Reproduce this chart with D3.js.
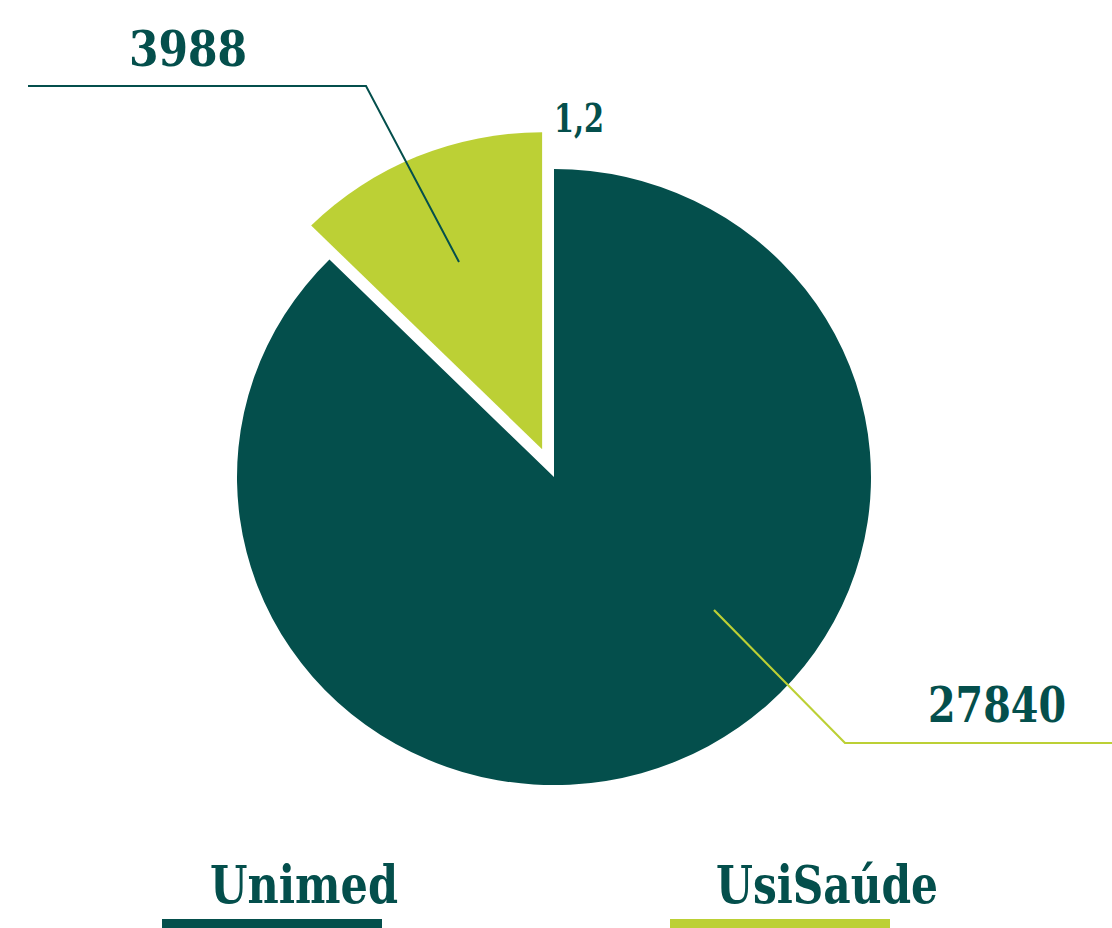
<!DOCTYPE html>
<html>
<head>
<meta charset="utf-8">
<script src="https://cdn.jsdelivr.net/npm/d3@7"></script>
<style>
  html, body { margin: 0; padding: 0; background: #ffffff; }
  svg { display: block; }
  text { font-family: "DejaVu Serif Condensed", "DejaVu Serif", serif; font-weight: bold; fill: #044f4c; }
</style>
</head>
<body>
<svg id="chart" width="1112" height="928"></svg>
<script>
// ---- data ----
const categories = ["Unimed", "UsiSaúde"];
const values = [27840, 3988];
const valueLabels = ["27840", "3988"];
const extraLabel = "1,2";
const colors = ["#044f4c", "#bcd035"];

const W = 1112, H = 928;
const svg = d3.select("#chart");

const cx = 554, cy = 477, sy = 0.972;
const rMain = 317, rExploded = 326, explode = 31;

const data = categories.map((c, i) => ({ name: c, value: values[i], label: valueLabels[i], color: colors[i] }));
const pie = d3.pie().sort(null).value(d => d.value);
const arcs = pie(data);

const g = svg.append("g").attr("transform", `translate(${cx},${cy}) scale(1,${sy})`);

arcs.forEach((a, i) => {
  const isExploded = i === 1;
  const arc = d3.arc().innerRadius(0).outerRadius(isExploded ? rExploded : rMain);
  let tx = 0, ty = 0;
  if (isExploded) {
    const mid = (a.startAngle + a.endAngle) / 2;
    tx = Math.sin(mid) * explode;
    ty = -Math.cos(mid) * explode;
  }
  g.append("path")
    .attr("d", arc(a))
    .attr("transform", `translate(${tx},${ty})`)
    .attr("fill", a.data.color);
});

// leader lines
const line = d3.line();
svg.append("path")
  .attr("d", line([[28, 86], [366, 86], [459, 262]]))
  .attr("fill", "none").attr("stroke", colors[0]).attr("stroke-width", 2);
svg.append("path")
  .attr("d", line([[714, 610], [845, 743], [1112, 743]]))
  .attr("fill", "none").attr("stroke", colors[1]).attr("stroke-width", 2.2);

// value labels
function fitText(sel, x, y, size, width) {
  sel.attr("x", x).attr("y", y).attr("font-size", size)
     .attr("textLength", width).attr("lengthAdjust", "spacingAndGlyphs");
  return sel;
}
fitText(svg.append("text").text(valueLabels[1]), 129, 66, 49, 118);
fitText(svg.append("text").text(valueLabels[0]), 928, 722, 49, 138);
fitText(svg.append("text").text(extraLabel), 554, 132, 39, 50);

// legend
const legendItems = [
  { text: categories[0], color: colors[0], tx: 210, tw: 188, bx: 162, bw: 220 },
  { text: categories[1], color: colors[1], tx: 716, tw: 222, bx: 670, bw: 220 }
];
legendItems.forEach(d => {
  fitText(svg.append("text").text(d.text), d.tx, 903, 52, d.tw);
  svg.append("rect").attr("x", d.bx).attr("y", 919).attr("width", d.bw).attr("height", 9).attr("fill", d.color);
});
</script>
</body>
</html>
